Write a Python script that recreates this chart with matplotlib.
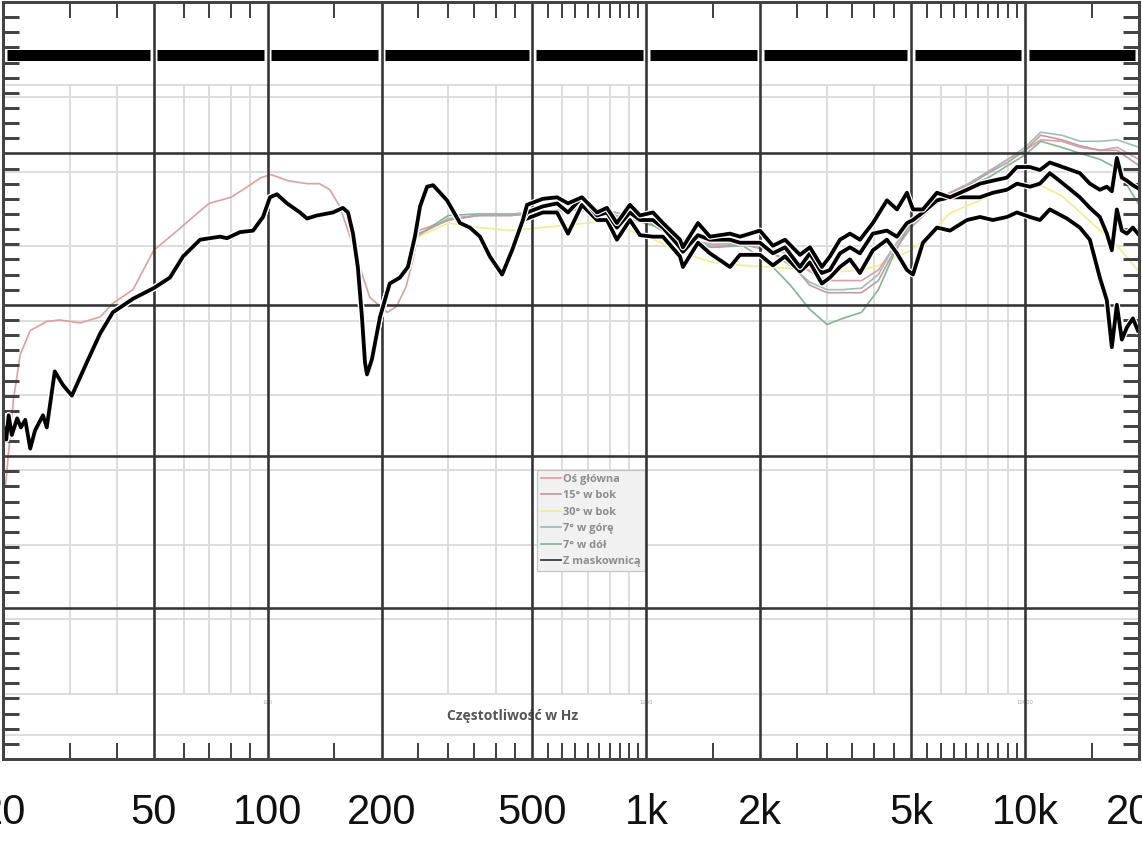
import numpy as np
import matplotlib
matplotlib.use("Agg")
import matplotlib.pyplot as plt
from matplotlib.lines import Line2D
from matplotlib.ticker import FixedLocator, NullFormatter, MultipleLocator
import matplotlib.patheffects as pe

# ---------------- data ----------------
major_ticks = [20, 50, 100, 200, 500, 1000, 2000, 5000, 10000, 20000]
major_labels = ['20', '50', '100', '200', '500', '1k', '2k', '5k', '10k', '20k']
minor_x = [30, 40, 60, 70, 80, 90, 150, 250, 300, 350, 400, 450,
           550, 600, 650, 700, 750, 800, 850, 900, 950, 1500,
           2500, 3000, 3500, 4000, 4500, 5500, 6000, 6500, 7000, 7500,
           8000, 8500, 9000, 9500, 15000]
major_y = [60, 70, 80, 90]

# black curves (common low-frequency part)
bass_freq = [20.0, 20.4, 20.7, 21.1, 21.8, 22.3, 22.9, 23.6, 24.3, 25.5,
             26.1, 27.4, 28.8, 30.4, 33.3, 36.1, 39.0, 44.1, 50, 55.2,
             59.8, 66.3, 74.8, 78.1, 84.5, 91.5, 97.2, 101.4, 105.8, 112.5,
             121.7, 127, 135, 148.7, 158, 163, 168, 173, 177.4, 180.7,
             182.9, 188.5, 198, 210, 223.5, 234.6, 244.8, 252.6, 263.6, 273.4,
             297.6, 322, 342, 363.7, 386, 416, 442, 472]
bass_db = [72.1, 71.1, 72.7, 71.4, 72.5, 71.9, 72.4, 70.5, 71.7, 72.7,
           71.9, 75.6, 74.7, 74.0, 76.2, 78.1, 79.5, 80.4, 81.1, 81.8,
           83.2, 84.3, 84.5, 84.4, 84.8, 84.9, 85.8, 87.1, 87.3, 86.7,
           86.1, 85.7, 85.9, 86.1, 86.4, 86.1, 84.7, 82.5, 79.2, 76.2,
           75.4, 76.4, 79.2, 81.4, 81.8, 82.5, 84.5, 86.5, 87.8, 87.9,
           86.9, 85.4, 85.1, 84.5, 83.2, 82.0, 83.6, 85.6]

# black curves (upper part, three measurements)
hi_freq = [484, 533, 581, 621, 676, 741, 787, 836, 905, 962,
           1041, 1106, 1227, 1249, 1369, 1472, 1663, 1767, 1995, 2159,
           2324, 2545, 2704, 2908, 3054, 3246, 3449, 3665, 3965, 4319,
           4590, 4878, 5060, 5375, 5853, 6337, 7026, 7604, 8227, 8957,
           9520, 10303, 10950, 11630, 12902, 13959, 14834, 15761, 16447, 16955,
           17479, 18019, 18576, 19268, 19866]
top_db = [86.6, 87.0, 87.1, 86.7, 87.1, 86.1, 86.4, 85.4, 86.6, 85.9,
          86.1, 85.4, 84.3, 83.8, 85.4, 84.5, 84.7, 84.5, 84.9, 83.9,
          84.3, 83.3, 83.8, 82.5, 83.2, 84.3, 84.7, 84.3, 85.4, 86.9,
          86.3, 87.4, 86.3, 86.3, 87.4, 87.1, 87.6, 88.0, 88.2, 88.4,
          89.1, 89.1, 88.9, 89.4, 89.0, 88.7, 88.0, 87.6, 87.8, 87.5,
          89.7, 88.4, 88.2, 87.9, 87.7]
mid_db = [86.1, 86.5, 86.7, 86.1, 87.1, 85.9, 86.1, 85.1, 86.1, 85.6,
          85.6, 85.1, 83.8, 83.5, 84.6, 84.3, 84.3, 84.1, 84.1, 83.4,
          83.8, 82.5, 83.4, 82.1, 82.3, 83.4, 83.8, 83.4, 84.7, 84.9,
          84.5, 85.4, 85.6, 86.1, 86.9, 87.1, 87.1, 87.1, 87.4, 87.6,
          88.0, 87.8, 88.0, 88.7, 87.8, 87.1, 86.4, 85.8, 84.7, 83.6,
          86.3, 84.9, 84.7, 85.1, 84.7]
low_db = [85.7, 86.1, 86.1, 84.7, 86.6, 85.6, 85.6, 84.3, 85.6, 84.6,
          84.5, 84.5, 83.2, 82.5, 84.1, 83.4, 82.5, 83.3, 83.3, 82.6,
          83.2, 82.2, 82.8, 81.4, 81.8, 82.5, 83.0, 82.1, 83.6, 84.3,
          83.4, 82.3, 82.0, 84.1, 85.1, 84.9, 85.6, 85.8, 85.6, 85.8,
          86.1, 85.8, 85.6, 86.3, 85.7, 85.1, 84.3, 81.8, 80.3, 77.2,
          80.0, 77.7, 78.5, 79.1, 78.3]

# coloured curves of the embedded chart
pink_bass_freq = [20.3, 21.3, 22.2, 23.6, 26.1, 28.2, 32.0, 36.1, 39.0, 44.1,
                  50, 56.5, 63.5, 70, 80, 86, 96, 102, 113, 127,
                  137, 146, 155, 165, 176, 186, 198, 207, 219, 232, 242]
pink_bass_db = [68.0, 73.7, 76.7, 78.3, 78.9, 79.0, 78.8, 79.2, 80.1, 81.0,
                83.6, 84.7, 85.8, 86.7, 87.1, 87.6, 88.4, 88.6, 88.2, 88.0,
                88.0, 87.6, 86.5, 84.5, 82.3, 80.5, 79.9, 79.5, 79.9, 81.2, 83.0]
col_freq = [250, 300, 360, 440, 530, 640, 760, 900, 1050, 1250,
            1500, 1800, 2100, 2400, 2700, 3000, 3300, 3700, 4100, 4500,
            5000, 5600, 6300, 7100, 8000, 9000, 10000, 11000, 12500, 14000,
            15800, 17500, 20000]
pink_db = [84.9, 85.6, 85.9, 85.9, 86.1, 86.4, 86.3, 85.9, 85.5, 84.3,
           84.0, 84.1, 83.8, 83.3, 82.2, 81.6, 81.6, 81.6, 82.3, 83.8,
           85.3, 86.4, 87.4, 88.0, 88.8, 89.6, 90.2, 90.9, 90.8, 90.4,
           90.2, 90.4, 89.6]
side15_db = [84.7, 85.6, 85.9, 85.9, 86.1, 86.3, 86.1, 85.7, 85.3, 84.1,
             83.8, 84.0, 83.6, 82.8, 81.3, 80.8, 80.8, 80.8, 81.6, 83.5,
             85.1, 86.3, 87.3, 87.9, 88.7, 89.4, 90.2, 91.2, 90.9, 90.5,
             90.2, 90.2, 89.2]
side30_db = [84.5, 85.4, 85.1, 84.9, 85.1, 85.3, 85.5, 84.9, 84.3, 83.4,
             82.8, 82.6, 82.5, 82.4, 82.3, 82.2, 82.2, 82.3, 82.6, 83.1,
             83.6, 84.6, 86.0, 86.6, 87.1, 87.7, 88.1, 87.9, 87.2, 86.1,
             84.9, 83.9, 82.2]
up7_db = [84.6, 85.7, 85.9, 86.0, 86.1, 86.4, 86.3, 85.9, 85.3, 84.3,
          83.9, 84.0, 83.6, 82.6, 81.5, 81.0, 81.0, 81.1, 82.0, 83.8,
          85.5, 86.6, 87.3, 88.0, 88.8, 89.6, 90.4, 91.4, 91.2, 90.8,
          90.8, 90.9, 90.4]
down7_db = [84.6, 85.9, 86.0, 86.0, 86.1, 86.3, 86.1, 85.7, 85.2, 84.1,
            83.8, 83.9, 82.8, 81.3, 79.7, 78.7, 79.1, 79.5, 81.0, 83.3,
            85.5, 86.6, 87.1, 87.8, 88.4, 89.2, 89.9, 90.8, 90.4, 90.0,
            89.6, 89.0, 86.6]

legend_labels = ['Oś główna', '15° w bok', '30° w bok', '7° w górę', '7° w dół', 'Z maskownicą']
legend_colors = ['#dba2a2', '#bd9ea2', '#eeee98', '#a3bcbd', '#86b596', '#3a3a3a']
inner_tick_values = [100, 1000, 10000]
inner_tick_labels = ['100', '1000', '10000']

bar_level = 96.5
inner_top, inner_step, inner_count = 93.73, 4.93, 9
inner_frame = (94.52, 51.58)

# ---------------- figure ----------------
W, H, DPI = 1142, 844, 100
PX = 72 / DPI
fig = plt.figure(figsize=(W / DPI, H / DPI), dpi=DPI)
fig.patch.set_facecolor('white')
ax = fig.add_axes([3 / W, 85 / H, 1136 / W, 757 / H])
ax.set_xscale('log')
ax.set_xlim(20, 20000)
ax.set_ylim(50, 100)
ax.set_facecolor('white')

# embedded chart light grid
light = '#dddddd'
inner_h = inner_top - inner_step * np.arange(inner_count)
for y in list(inner_h) + list(inner_frame):
    ax.axhline(y, color=light, lw=2 * PX, zorder=0.5)
inner_v = [m * 10 ** k for k in range(1, 5) for m in range(1, 10) if 20 <= m * 10 ** k <= 20000]
ax.vlines(inner_v, inner_h[-1], inner_frame[0], color=light, lw=2 * PX, zorder=0.5)

# coloured curves
cw = 1.7 * PX
ax.plot(pink_bass_freq + col_freq, pink_bass_db + pink_db, color=legend_colors[0], lw=cw, zorder=1.5)
ax.plot(col_freq, side30_db, color=legend_colors[2], lw=cw, zorder=1.4)
ax.plot(col_freq, down7_db, color=legend_colors[4], lw=cw, zorder=1.5)
ax.plot(col_freq, up7_db, color=legend_colors[3], lw=cw, zorder=1.5)
ax.plot(col_freq, side15_db, color=legend_colors[1], lw=cw, zorder=1.5)

# outer dark grid
dark = '#353535'
for f in major_ticks[1:-1]:
    ax.axvline(f, color=dark, lw=2.6 * PX, zorder=2)
for y in major_y:
    ax.axhline(y, color=dark, lw=2.6 * PX, zorder=2)

# thick black bar broken at major lines
gap = 1.022
for a, b in zip(major_ticks[:-1], major_ticks[1:]):
    ax.plot([a * gap, b / gap], [bar_level, bar_level], color='black', lw=11 * PX,
            solid_capstyle='butt', zorder=2.5)

# black curves
bw = 3.8 * PX
halo = [pe.Stroke(linewidth=bw + 2.4 * PX, foreground='white'), pe.Normal()]
for series in (low_db, mid_db, top_db):
    ax.plot(bass_freq + hi_freq, bass_db + series, color='black', lw=bw,
            solid_joinstyle='round', zorder=3, path_effects=halo)

# ticks
ax.set_xticks(major_ticks)
ax.set_xticklabels(major_labels, family='Liberation Sans', fontsize=30, color='#111111')
ax.xaxis.set_minor_locator(FixedLocator(minor_x))
ax.xaxis.set_minor_formatter(NullFormatter())
ax.tick_params(axis='x', which='major', length=0, pad=24.5)
ax.tick_params(axis='x', which='minor', direction='in', top=True, bottom=True,
               length=16 * PX, width=2 * PX, color='#444444')
ax.set_yticks(major_y)
ax.yaxis.set_minor_locator(MultipleLocator(1))
ax.tick_params(axis='y', which='major', length=0, labelleft=False)
ax.tick_params(axis='y', which='minor', direction='in', left=True, right=True,
               length=16 * PX, width=3 * PX, color='#444444')
for s in ax.spines.values():
    s.set_color('#444444')
    s.set_linewidth(3 * PX)
    s.set_zorder(4)

# embedded chart texts
for v, t in zip(inner_tick_values, inner_tick_labels):
    ax.text(v, 53.7, t, fontsize=3.8, color='#a8a8a8', ha='center', va='center', zorder=1)
ax.text(442, 52.84, 'Częstotliwość w Hz', fontsize=10, color='#555555', family='Open Sans',
        weight='bold', ha='center', va='center', zorder=1)

handles = [Line2D([], [], color=c, lw=1.8 * PX) for c in legend_colors]
leg = ax.legend(handles, legend_labels, loc='upper left', bbox_to_anchor=(0.4701, 0.3818),
                borderaxespad=0, frameon=True, fancybox=False,
                prop=dict(family='Open Sans', weight='bold', size=7.9), labelcolor='#8c8c8c',
                handlelength=1.8, handletextpad=0.25, borderpad=0.35, labelspacing=0.5)
leg.get_frame().set_facecolor('#f1f1f1')
leg.get_frame().set_edgecolor('#c4c4c4')
leg.get_frame().set_linewidth(1.2 * PX)
leg.get_frame().set_alpha(1)
leg.set_zorder(1.8)

fig.savefig('out.png', dpi=DPI, facecolor='white')
